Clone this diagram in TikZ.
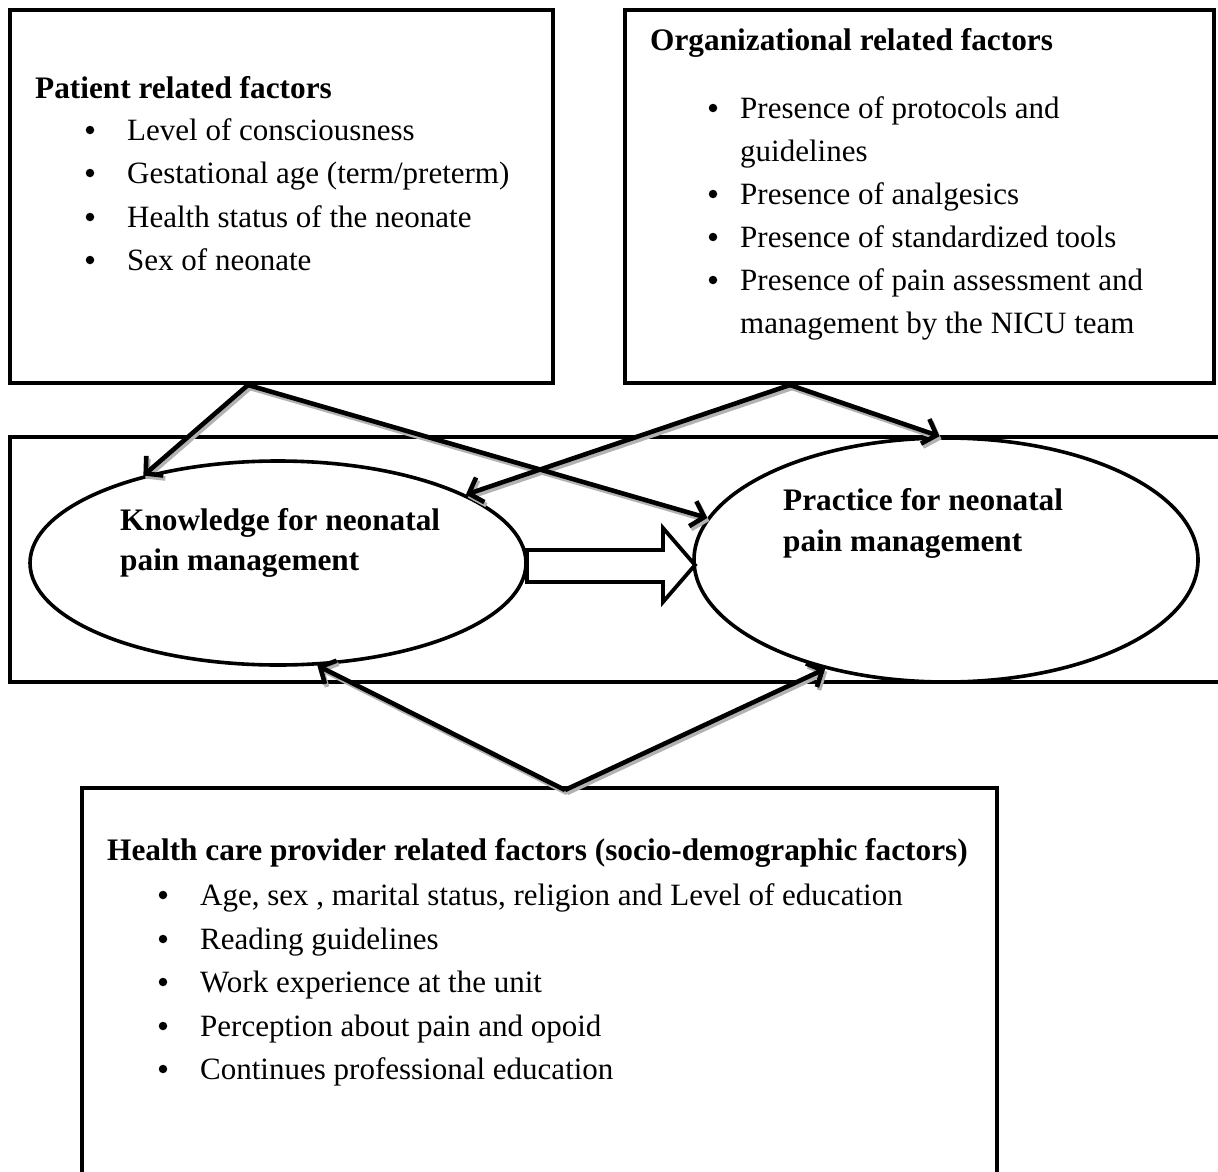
\documentclass[tikz,border=0pt]{standalone}
\usepackage{fontspec}
\setmainfont{Liberation Serif}
\usetikzlibrary{arrows.meta,shapes.geometric}
\begin{document}
\begin{tikzpicture}[x=1pt,y=-1pt,
  box/.style={draw, line width=3.8pt},
  ell/.style={draw, ellipse, line width=3.6pt, inner sep=0pt},
  conn/.style={line width=4.6pt, -{Straight Barb[length=12pt,width=26pt]}},
  shad/.style={line width=4.6pt, draw=gray!60, -{Straight Barb[length=12pt,width=26pt]}},
  txt/.style={anchor=base west, inner sep=0pt, font=\fontsize{31}{36}\selectfont},
  hd/.style={anchor=base west, inner sep=0pt, font=\fontsize{31.3}{36}\selectfont\bfseries},
  bul/.style={circle, fill, inner sep=0pt, minimum size=8.5pt}]
\useasboundingbox (0,0) rectangle (1218,1172);

% boxes
\draw[box] (10,10) rectangle (553,383);
\draw[box] (625,10) rectangle (1214,383);
\draw[box] (1230,437) -- (10,437) -- (10,682) -- (1230,682);
\draw[box] (82,1185) -- (82,788) -- (997,788) -- (997,1185);

% ellipses
\node[ell, minimum width=496pt, minimum height=204pt] (kn) at (278,563) {};
\node[ell, minimum width=504pt, minimum height=244pt] (pr) at (946,560) {};

% connector ends
\coordinate (pa) at (248,385);
\coordinate (oa) at (790,385);
\coordinate (ha) at (565,790);

% shadows
\begin{scope}[transform canvas={shift={(2pt,-3pt)}}]
\draw[shad] (pa) -- (kn.147.8);
\draw[shad] (pa) -- (pr.170.5);
\draw[shad] (oa) -- (kn.20.5);
\draw[shad] (oa) -- (pr.93.7);
\draw[shad] (ha) -- (kn.-69);
\draw[shad] (ha) -- (pr.-138.5);
\end{scope}

% connectors
\draw[conn] (pa) -- (kn.147.8);
\draw[conn] (pa) -- (pr.170.5);
\draw[conn] (oa) -- (kn.20.5);
\draw[conn] (oa) -- (pr.93.7);
\draw[conn] (ha) -- (kn.-69);
\draw[conn] (ha) -- (pr.-138.5);

% block arrow
\coordinate (b1) at (527,550);
\coordinate (b2) at (663,550);
\coordinate (b3) at (663,528);
\coordinate (b4) at (695,565);
\coordinate (b5) at (663,602);
\coordinate (b6) at (663,582);
\coordinate (b7) at (527,582);
\draw[line width=3.8pt, fill=white, line join=miter] (b1) -- (b2) -- (b3) -- (b4) -- (b5) -- (b6) -- (b7) -- cycle;

% patient text
\node[hd] (pth) at (35,99) {Patient related factors};
\node[bul] (pb1) at (90,130) {};
\node[txt] (pt1) at (127,140) {Level of consciousness};
\node[bul] (pb2) at (90,173) {};
\node[txt] (pt2) at (127,183) {Gestational age (term/preterm)};
\node[bul] (pb3) at (90,217) {};
\node[txt] (pt3) at (127,227) {Health status of the neonate};
\node[bul] (pb4) at (90,260) {};
\node[txt] (pt4) at (127,270) {Sex of neonate};

% organizational text
\node[hd] (oth) at (650,51) {Organizational related factors};
\node[bul] (ob1) at (713,108) {};
\node[txt] (ot1) at (740,118) {Presence of protocols and};
\node[txt] (ot1b) at (740,161) {guidelines};
\node[bul] (ob2) at (713,194) {};
\node[txt] (ot2) at (740,204) {Presence of analgesics};
\node[bul] (ob3) at (713,237) {};
\node[txt] (ot3) at (740,247) {Presence of standardized tools};
\node[bul] (ob4) at (713,280) {};
\node[txt] (ot4) at (740,290) {Presence of pain assessment and};
\node[txt] (ot4b) at (740,333) {management by the NICU team};

% ellipse texts
\node[hd] (kt1) at (120,530) {Knowledge for neonatal};
\node[hd] (kt2) at (120,570) {pain management};
\node[hd] (prt1) at (783,510) {Practice for neonatal};
\node[hd] (prt2) at (783,551) {pain management};

% health care provider text
\node[hd] (hth) at (107,860) {Health care provider related factors (socio-demographic factors)};
\node[bul] (hb1) at (163,895) {};
\node[txt] (ht1) at (200,905) {Age, sex , marital status, religion and Level of education};
\node[bul] (hb2) at (163,939) {};
\node[txt] (ht2) at (200,949) {Reading guidelines};
\node[bul] (hb3) at (163,982) {};
\node[txt] (ht3) at (200,992) {Work experience at the unit};
\node[bul] (hb4) at (163,1026) {};
\node[txt] (ht4) at (200,1036) {Perception about pain and opoid};
\node[bul] (hb5) at (163,1069) {};
\node[txt] (ht5) at (200,1079) {Continues professional education};
\end{tikzpicture}
\end{document}
